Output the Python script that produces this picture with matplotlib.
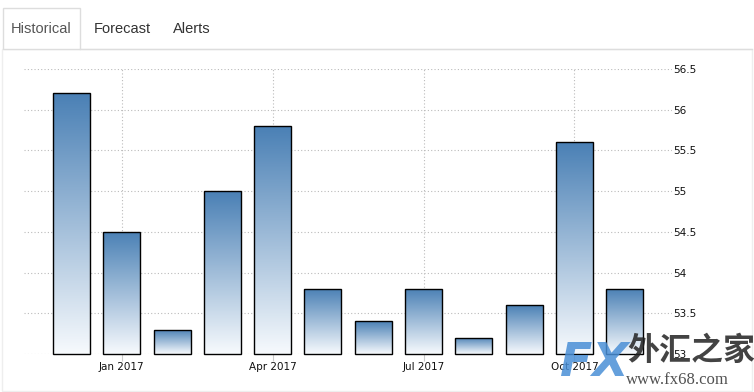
import numpy as np
import matplotlib.pyplot as plt
from matplotlib.patches import Rectangle
from matplotlib.colors import LinearSegmentedColormap

months = ['Dec 2016', 'Jan 2017', 'Feb 2017', 'Mar 2017', 'Apr 2017', 'May 2017',
          'Jun 2017', 'Jul 2017', 'Aug 2017', 'Sep 2017', 'Oct 2017', 'Nov 2017']
values = [56.2, 54.5, 53.3, 55.0, 55.8, 53.8, 53.4, 53.8, 53.2, 53.6, 55.6, 53.8]
tick_labels = ['Jan 2017', 'Apr 2017', 'Jul 2017', 'Oct 2017']
y_ticks = [53, 53.5, 54, 54.5, 55, 55.5, 56, 56.5]
tabs = ['Historical', 'Forecast', 'Alerts']

W, H = 754, 392
fig = plt.figure(figsize=(W / 100, H / 100), dpi=100)


def px(x0, y0, x1, y1):
    return [x0 / W, 1 - y1 / H, (x1 - x0) / W, (y1 - y0) / H]


# panel frame and tabs
fig.patches.append(Rectangle((2 / W, 1 / H), 750 / W, 1 - 50 / H, transform=fig.transFigure,
                             fill=False, ec='#eeeeee', lw=1))
fig.lines.append(plt.Line2D([80 / W, 752 / W], [1 - 49 / H] * 2, transform=fig.transFigure,
                            color='#dddddd', lw=1))
fig.patches.append(Rectangle((3 / W, 1 - 49 / H), 77 / W, 41 / H, transform=fig.transFigure,
                             fill=True, fc='white', ec='#dddddd', lw=1))
tab_x = [41, 122, 192]
for t, x in zip(tabs, tab_x):
    fig.text(x / W, 1 - 29 / H, t, ha='center', va='center', fontsize=10.5,
             family='Liberation Sans', color='#555555' if t == 'Historical' else '#333333')

ax = fig.add_axes(px(24, 69, 672, 354))
x = np.arange(len(months))
heights = [v - 53 for v in values]
bars = ax.bar(x, heights, width=0.735, bottom=53, color='none', edgecolor='black',
              linewidth=1, zorder=3, clip_on=False)

cmap = LinearSegmentedColormap.from_list('g', ['#f7fafd', '#4a80b5'])
grad = np.linspace(0, 1, 256).reshape(-1, 1)
for b in bars:
    bx, bw, top = b.get_x(), b.get_width(), b.get_y() + b.get_height()
    im = ax.imshow(grad, cmap=cmap, aspect='auto', origin='lower',
                   extent=[bx, bx + bw, 53, top], zorder=2)
    im.set_clip_path(b)

ax.set_xlim(-0.944, 11.94)
ax.set_ylim(53, 56.5)
ax.set_xticks([months.index(m) for m in tick_labels])
ax.set_xticklabels(tick_labels)
ax.set_yticks(y_ticks)
ax.set_yticklabels(['53', '53.5', '54', '54.5', '55', '55.5', '56', '56.5'])
ax.yaxis.tick_right()
ax.tick_params(axis='y', length=0, pad=1, labelsize=7.5, labelcolor='#111111')
ax.tick_params(axis='x', length=5, color='#cccccc', pad=1, labelsize=7.5, labelcolor='#111111')
for s in ax.spines.values():
    s.set_visible(False)
ax.grid(True, linestyle=(0, (1, 2)), color='#bbbbbb', lw=0.8, zorder=0)
ax.set_axisbelow(True)

# watermark
fig.text(560 / W, 1 - 364 / H, 'FX', fontsize=34, fontweight='bold', style='italic',
         color='#4a8fd6', alpha=0.85, ha='left', va='center', family='DejaVu Sans')
fig.text(627 / W, 1 - 351 / H, '外汇之家', fontsize=23, fontweight='bold',
         color='#222222', alpha=0.85, ha='left', va='center', family='Noto Sans CJK SC')
fig.text(626 / W, 1 - 380 / H, 'www.fx68.com', fontsize=12, color='#333333',
         alpha=0.85, ha='left', va='center', family='Liberation Serif')

fig.savefig('out.png', dpi=100)
